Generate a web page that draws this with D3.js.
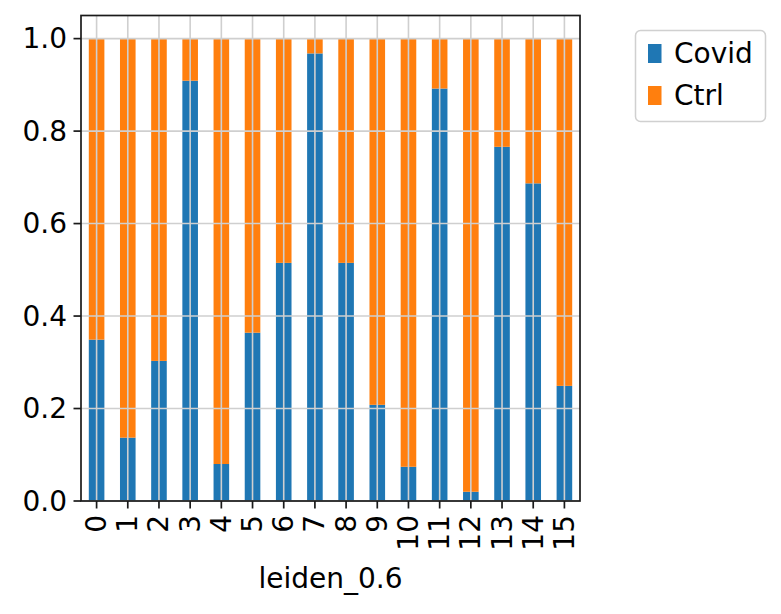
<!DOCTYPE html>
<html><head><meta charset="utf-8">
<script src="https://cdn.jsdelivr.net/npm/d3@7"></script>
<style>body{margin:0;background:#fff}svg{display:block}text{font-family:"DejaVu Sans",sans-serif;fill:#000}</style>
</head><body>
<svg id="c" width="781" height="614"></svg>
<script>
const categories = ["0","1","2","3","4","5","6","7","8","9","10","11","12","13","14","15"];
const covid = [0.349,0.137,0.303,0.909,0.080,0.364,0.515,0.968,0.515,0.208,0.074,0.892,0.020,0.766,0.687,0.249];
const ctrl = covid.map(v => 1 - v);
const seriesNames = ["Covid","Ctrl"];
const colors = ["#1f77b4","#ff7f0e"];
const yTicks = [0,0.2,0.4,0.6,0.8,1.0];

const L=81, R=580, T=15.5, B=501;
const svg = d3.select("#c");
const x = d3.scaleLinear().domain([-0.5, categories.length-0.5]).range([L,R]);
const y = d3.scaleLinear().domain([0,1.05]).range([B,T]);
const bw = x(0.25)-x(-0.25);
const fs = 28;

// bars
const stacked = categories.map((c,i)=>({i, c, v:[covid[i], ctrl[i]]}));
seriesNames.forEach((s,k)=>{
  svg.append("g").selectAll("rect").data(stacked).join("rect")
    .attr("x", d=>x(d.i)-bw/2)
    .attr("width", bw)
    .attr("y", d=>y(d3.sum(d.v.slice(0,k+1))))
    .attr("height", d=>y(d3.sum(d.v.slice(0,k))) - y(d3.sum(d.v.slice(0,k+1))))
    .attr("fill", colors[k]);
});

// grid
const grid = svg.append("g").attr("stroke","#cfcfcf").attr("stroke-width",1.6);
categories.forEach((c,i)=>grid.append("line").attr("x1",x(i)).attr("x2",x(i)).attr("y1",T).attr("y2",B));
yTicks.forEach(t=>grid.append("line").attr("x1",L).attr("x2",R).attr("y1",y(t)).attr("y2",y(t)));

// spines
svg.append("rect").attr("x",L).attr("y",T).attr("width",R-L).attr("height",B-T)
  .attr("fill","none").attr("stroke","#1a1a1a").attr("stroke-width",1.7);

// ticks
const tk = svg.append("g").attr("stroke","#1a1a1a").attr("stroke-width",1.7);
yTicks.forEach(t=>tk.append("line").attr("x1",L-7.5).attr("x2",L).attr("y1",y(t)).attr("y2",y(t)));
categories.forEach((c,i)=>tk.append("line").attr("x1",x(i)).attr("x2",x(i)).attr("y1",B).attr("y2",B+7.5));

yTicks.forEach(t=>svg.append("text").attr("x",L-14).attr("y",y(t)).attr("text-anchor","end")
  .attr("dominant-baseline","central").attr("font-size",fs).text(d3.format(".1f")(t)));
categories.forEach((c,i)=>svg.append("text").attr("transform",`translate(${x(i)},${B+14}) rotate(-90)`)
  .attr("text-anchor","end").attr("dominant-baseline","central").attr("font-size",fs).text(c));

svg.append("text").attr("x",(L+R)/2).attr("y",588).attr("text-anchor","middle").attr("font-size",fs).text("leiden_0.6");

// legend
const lg = svg.append("g");
lg.append("rect").attr("x",635.5).attr("y",30.5).attr("width",130).attr("height",91).attr("rx",5)
  .attr("fill","#fff").attr("stroke","#d0d0d0").attr("stroke-width",1.5);
seriesNames.forEach((s,k)=>{
  lg.append("rect").attr("x",648).attr("y",44+k*42).attr("width",13.5).attr("height",19).attr("fill",colors[k]);
  lg.append("text").attr("x",674).attr("y",63+k*42).attr("font-size",fs).text(s);
});
</script>
</body></html>
